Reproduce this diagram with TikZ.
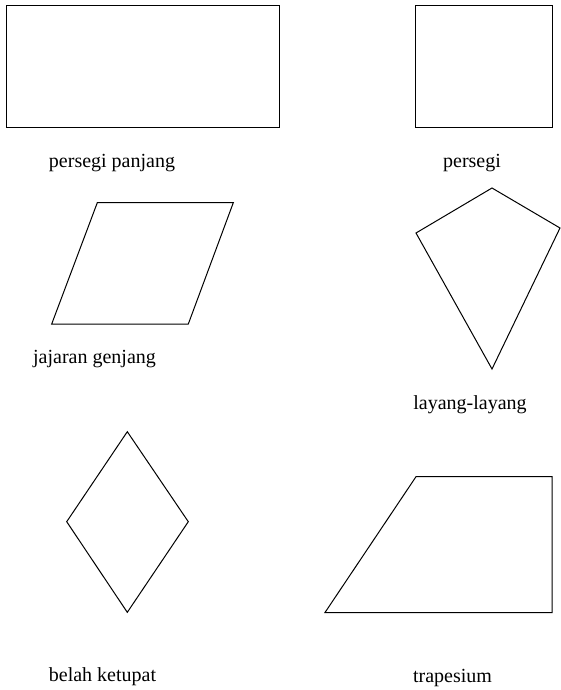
\documentclass[tikz,border=0pt]{standalone}
\usepackage{fontspec}
\setmainfont{Liberation Serif}
\begin{document}
\begin{tikzpicture}[x=1pt,y=-1pt,
  figline/.style={draw=black,line width=1pt,line join=miter},
  lbl/.style={anchor=base,inner sep=0pt,font=\fontsize{20}{24}\selectfont}]
\useasboundingbox (0,0) rectangle (560,690);
% persegi panjang
\draw[figline] (6,5.5) rectangle (279,127);
\node[lbl] (l1) at (112,167) {persegi panjang};
% persegi
\draw[figline] (415.5,5.5) rectangle (552,127);
\node[lbl] (l2) at (472,167) {persegi};
% jajaran genjang
\draw[figline] (97.3,202.7) -- (233.3,202.7) -- (188.3,324) -- (51.7,324) -- cycle;
\node[lbl] (l3) at (94.5,363) {jajaran genjang};
% layang-layang
\draw[figline] (492,188) -- (560,228) -- (492,369) -- (416,233) -- cycle;
\node[lbl] (l4) at (470,409) {layang-layang};
% belah ketupat
\draw[figline] (127.3,431.7) -- (188.3,521.7) -- (127.3,612.3) -- (66.7,521.7) -- cycle;
\node[lbl] (l5) at (102.5,681.5) {belah ketupat};
% trapesium
\draw[figline] (416,476.7) -- (552,476.7) -- (552,612.5) -- (325,612.5) -- cycle;
\node[lbl] (l6) at (452.5,682) {trapesium};
\end{tikzpicture}
\end{document}
